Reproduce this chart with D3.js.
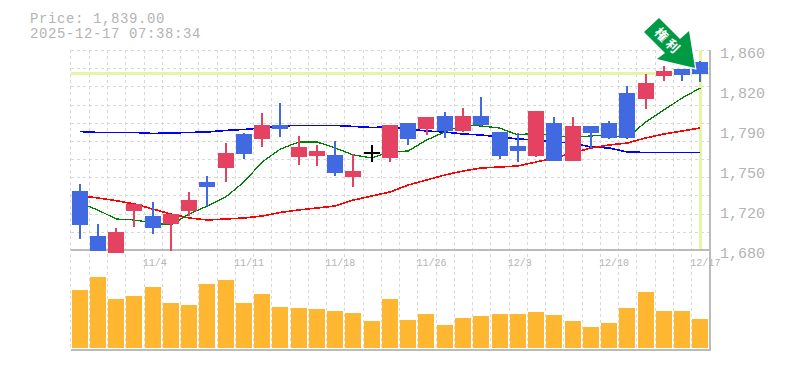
<!DOCTYPE html>
<html><head><meta charset="utf-8">
<script src="https://cdnjs.cloudflare.com/ajax/libs/d3/7.8.5/d3.min.js"></script>
<style>html,body{margin:0;padding:0;background:#fff}svg{display:block}text{font-family:"Liberation Mono",monospace;fill:#b4b4b4}</style>
</head><body><svg id="c" width="785" height="370"></svg>
<script>
const dates=["10/28","10/29","10/30","10/31","11/4","11/5","11/6","11/7","11/10","11/11","11/12","11/13","11/14","11/17","11/18","11/19","11/20","11/21","11/25","11/26","11/27","11/28","12/1","12/2","12/3","12/4","12/5","12/8","12/9","12/10","12/11","12/12","12/15","12/16","12/17"];
const shownDates=["11/4","11/11","11/18","11/26","12/3","12/10","12/17"];
const open=[1733.1,1692.6,1677.3,1715.1,1710.6,1703.4,1715.1,1741.2,1753.8,1784.4,1779.9,1792.5,1763.7,1764.6,1765.5,1745.7,1768.2,1762.8,1794.3,1788.9,1800.6,1787.1,1800.6,1786.2,1773.6,1764.6,1794.3,1760.1,1791.6,1794.3,1821.3,1815.9,1836.6,1842.9,1849.2];
const close=[1702.5,1679.1,1696.2,1721.4,1699.8,1712.4,1725,1736.7,1767.3,1766.4,1792.5,1788.9,1772.7,1769.1,1749.3,1751.1,1768.2,1792.5,1779.9,1799.7,1787.1,1800.6,1792.5,1764.6,1769.1,1805.1,1760.1,1791.6,1785.3,1780.8,1780.8,1830.3,1841.1,1837.5,1838.4];
const high=[1739.4,1703.4,1699.8,1721.4,1723.2,1712.4,1732.2,1746.6,1776.3,1785.3,1803.3,1812.3,1782.6,1774.5,1778.1,1766.4,1774.5,1792.5,1794.3,1799.7,1804.2,1807.8,1817.7,1786.2,1785.3,1805.1,1799.7,1799.7,1791.6,1796.1,1827.6,1838.4,1845.6,1842.9,1850.1];
const low=[1689.9,1679.1,1677.3,1700.7,1694.4,1679.1,1710.6,1719.6,1741.2,1761.9,1772.7,1781.7,1756.5,1755.6,1746.6,1736.7,1759.2,1759.2,1774.5,1783.5,1780.8,1786.2,1791.6,1761.9,1759.2,1763.7,1760.1,1760.1,1771.8,1779.9,1780.8,1806.9,1832.1,1832.1,1831.2];
const maShort=[1722.3,1716,1707.9,1707,1704.3,1702.5,1712.4,1719.6,1727.7,1741.2,1759.2,1770.9,1777.2,1777.2,1771.8,1765.5,1762.8,1768.2,1769.1,1779,1786.2,1792.5,1791.6,1789.8,1783.5,1785.3,1782.6,1781.7,1782.6,1783.5,1780.8,1795.2,1806,1816.8,1825.8];
const maMid=[1729,1726.8,1724.4,1721.4,1716.9,1712.4,1708.8,1707,1707.9,1708.8,1710.6,1713.8,1716,1717.8,1719.6,1725,1728.6,1732.2,1738.5,1743,1747.5,1751.1,1753.8,1754.7,1755.6,1759.2,1762.8,1767.3,1771.8,1774.5,1776.3,1780.8,1784.4,1787.1,1789.8];
const maLong=[1786.6,1785.8,1785.8,1785.8,1784.9,1785.3,1785.8,1786.2,1787.6,1788.5,1789.8,1791.6,1792.1,1792.1,1792.1,1791.2,1790.3,1790.7,1788.9,1787.1,1786.2,1784.4,1783.5,1781.7,1779.9,1779,1777.2,1776.3,1772.7,1771.8,1768.2,1767.8,1767.8,1767.8,1767.8];
const volume=[58,71,49,52,61,45,43,64,68,45,54,41,40,39,37,35,27,49,28,34,23,30,32,34,34,36,33,27,21,25,40,56,37,37,29];
const priceTicks=[1860,1824,1788,1752,1716,1680];
const lastPrice=1839;
const stamp=["Price: 1,839.00","2025-12-17 07:38:34"];

const svg=d3.select("#c");
const L=70.5,R=709.5,T=50,B=250,VB=350,V0=348;
const x=d3.scaleBand().domain(dates).range([L,R]).paddingInner(0.12).paddingOuter(0.06);
const cx=d=>x(d)+x.bandwidth()/2;
const y=d3.scaleLinear().domain([1680,1860]).range([B,T]);
const v=d3.scaleLinear().domain([0,100]).range([V0,V0-100]);

// grid
const gridStep=x.step();
const gridX=dates.map(d=>Math.round(cx(d)-gridStep/2)+.5);
const g=svg.append("g").attr("shape-rendering","crispEdges").attr("stroke","#d8d8d8").attr("stroke-dasharray","3,3");
g.selectAll(".gv").data(gridX).join("line").attr("x1",d=>d).attr("x2",d=>d).attr("y1",T).attr("y2",VB);
g.selectAll(".gh").data(d3.range(12)).join("line").attr("x1",L).attr("x2",R)
 .attr("y1",i=>Math.round(y(1680+i*180/11))+.5).attr("y2",i=>Math.round(y(1680+i*180/11))+.5);

// volume
svg.append("g").attr("shape-rendering","crispEdges").selectAll("rect").data(dates).join("rect")
 .attr("x",d=>Math.round(x(d))).attr("width",16).attr("fill","#ffb732")
 .attr("y",(d,i)=>v(volume[i])).attr("height",(d,i)=>V0-v(volume[i]));

// current price guides
svg.append("line").attr("x1",L).attr("x2",R+1).attr("y1",y(lastPrice)).attr("y2",y(lastPrice)).attr("stroke","#e4f5a5").attr("stroke-width",3).attr("shape-rendering","crispEdges");
svg.append("line").attr("x1",cx("12/17")).attr("x2",cx("12/17")).attr("y1",T).attr("y2",B).attr("stroke","#e4f5a5").attr("stroke-width",3).attr("shape-rendering","crispEdges");

// frame
const fr=svg.append("g").attr("stroke","#bbb").attr("shape-rendering","crispEdges");
fr.append("line").attr("x1",L).attr("x2",R+1).attr("y1",B).attr("y2",B).attr("stroke-width",2);
fr.append("line").attr("x1",L).attr("x2",R+1).attr("y1",VB).attr("y2",VB).attr("stroke-width",2);
fr.append("line").attr("x1",R+.5).attr("x2",R+.5).attr("y1",T).attr("y2",VB).attr("stroke-width",2);

// moving averages
const ln=d3.line().x((d,i)=>cx(dates[i])).y(d=>y(d));
[[maLong,"#0000ff",1.6],[maMid,"#ff0000",1.6],[maShort,"#008000",1.3]].forEach(([s,c,w])=>{
 svg.append("path").attr("d",ln(s)).attr("fill","none").attr("stroke",c).attr("stroke-width",w).attr("shape-rendering","crispEdges");
});

// candles
const colorOf=i=>close[i]===open[i]?"#000":close[i]>open[i]?"#e44260":"#4169e1";
const cg=svg.append("g").attr("shape-rendering","crispEdges");
cg.selectAll("line").data(dates).join("line")
 .attr("x1",d=>Math.round(cx(d))).attr("x2",d=>Math.round(cx(d)))
 .attr("y1",(d,i)=>y(high[i])).attr("y2",(d,i)=>y(low[i]))
 .attr("stroke",(d,i)=>colorOf(i)).attr("stroke-width",2);
cg.selectAll("rect").data(dates).join("rect")
 .attr("x",d=>Math.round(x(d))).attr("width",16)
 .attr("y",(d,i)=>y(Math.max(open[i],close[i])))
 .attr("height",(d,i)=>Math.max(y(Math.min(open[i],close[i]))-y(Math.max(open[i],close[i])),2))
 .attr("fill",(d,i)=>colorOf(i));

// axes
const ax=d3.axisBottom(x).tickValues(shownDates).tickSize(0).tickPadding(0);
const xg=svg.append("g").attr("transform",`translate(0,${B+16})`).call(ax);
xg.select(".domain").remove();
xg.selectAll("text").attr("text-anchor","start").attr("dy",0).attr("y",0).attr("dx",-10).attr("font-size",10).style("font-family",'"Liberation Mono",monospace');
const ay=d3.axisRight(y).tickValues(priceTicks).tickSize(0).tickPadding(0).tickFormat(d=>d3.format(",")(Math.round(d/10)*10));
const yg=svg.append("g").attr("transform","translate(720,0)").call(ay);
yg.select(".domain").remove();
yg.selectAll("text").attr("font-size",15).attr("dy",7).style("font-family",'"Liberation Mono",monospace');

// title
svg.selectAll(".st").data(stamp).join("text").attr("class","st").attr("x",30).attr("y",(d,i)=>23+i*15).attr("font-size",14).attr("letter-spacing",0.6).text(d=>d);

// arrow marker
const ag=svg.append("g");
ag.append("path").attr("d","M659 18L644 32L665 53L657 59L695 68L689 31L680 39Z").attr("fill","#009944").attr("stroke","#fff").attr("stroke-width",2.5).attr("paint-order","stroke").attr("stroke-linejoin","miter");
ag.append("text").attr("transform","translate(668,41.5) rotate(45)").attr("text-anchor","middle").attr("dy",4.5).attr("font-size",13).attr("letter-spacing",3).style("fill","#fff").style("font-family",'"Noto Sans CJK JP"').style("font-weight",700).text("権利");
</script></body></html>
